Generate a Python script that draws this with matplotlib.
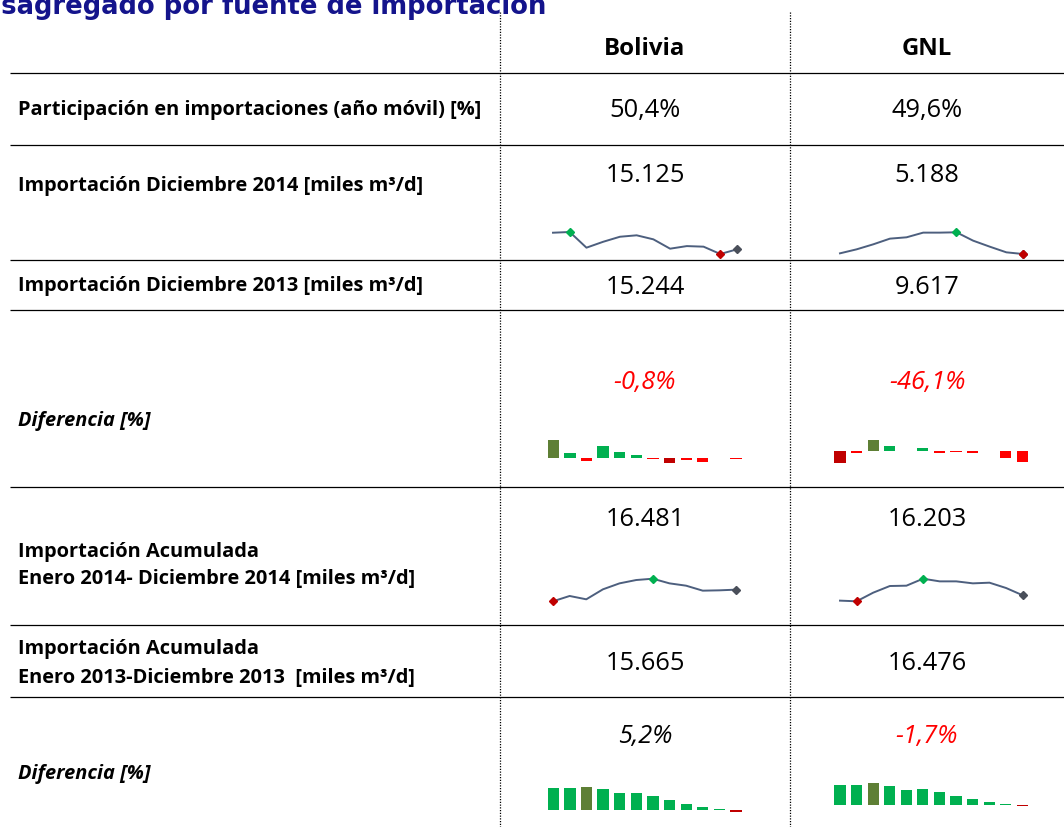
import matplotlib
matplotlib.use("Agg")
import matplotlib.pyplot as plt

# ---------------- data ----------------
title_text = "Desagregado por fuente de importación"
columns = ["Bolivia", "GNL"]

row_labels = [
    ["Participación en importaciones (año móvil) [%]"],
    ["Importación Diciembre 2014 [miles m³/d]"],
    ["Importación Diciembre 2013 [miles m³/d]"],
    ["Diferencia [%]"],
    ["Importación Acumulada", "Enero 2014- Diciembre 2014 [miles m³/d]"],
    ["Importación Acumulada", "Enero 2013-Diciembre 2013  [miles m³/d]"],
    ["Diferencia [%]"],
]
bolivia_values = ["50,4%", "15.125", "15.244", "-0,8%", "16.481", "15.665", "5,2%"]
gnl_values = ["49,6%", "5.188", "9.617", "-46,1%", "16.203", "16.476", "-1,7%"]

# sparkline series (monthly, Jan..Dec)
bolivia_monthly_2014 = [16.28, 16.33, 15.24, 15.65, 16.00, 16.10, 15.82, 15.17, 15.35, 15.31, 14.80, 15.125]
gnl_monthly_2014 = [10.02, 11.46, 13.26, 15.30, 15.78, 17.46, 17.46, 17.58, 14.58, 12.42, 10.38, 9.78]
bolivia_monthly_diff = [16.5, 4.5, -2.7, 11.4, 5.4, 2.7, -0.3, -3.9, -1.8, -3.6, 0.6, -0.8]
gnl_monthly_diff = [-49.5, -6.0, 49.0, 21.0, 1.0, 15.0, -7.5, -1.0, -7.5, 3.0, -30.0, -46.1]
bolivia_cum_2014 = [15.78, 16.10, 15.90, 16.50, 16.86, 17.06, 17.14, 16.86, 16.72, 16.42, 16.44, 16.481]
gnl_cum_2014 = [15.72, 15.66, 16.44, 17.04, 17.07, 17.70, 17.46, 17.46, 17.28, 17.34, 16.86, 16.203]
bolivia_cum_diff = [12.6, 12.6, 13.6, 12.0, 10.0, 10.0, 8.4, 5.6, 3.6, 2.0, 0.8, -1.2]
gnl_cum_diff = [12.0, 12.0, 13.0, 11.4, 9.0, 9.4, 7.8, 5.4, 3.4, 2.0, 0.8, -0.8]

# ---------------- style ----------------
W, H = 1064, 827
FONT = "Open Sans"
LINE_C = "#4d5f7e"
HIGH_M = "#00B050"
LOW_M = "#C00000"
LAST_M = "#4a4f5a"
POS_C = "#00B050"
NEG_C = "#FF0000"
HIGH_C = "#5E7F35"
LOW_C = "#C00000"

fig = plt.figure(figsize=(W / 100, H / 100), dpi=100)
base = fig.add_axes([0, 0, 1, 1])
base.set_xlim(0, W)
base.set_ylim(H, 0)
base.axis("off")

# title (clipped at top / left like the reference)
base.text(546, 14, title_text, ha="right", va="baseline", fontsize=18.6,
          fontweight="bold", color="#14148C", family="DejaVu Sans")

# grid lines
for y in [73, 145, 260, 310, 487, 625, 697]:
    base.plot([10, W], [y, y], color="black", lw=0.9, solid_capstyle="butt")
for x in [500, 790]:
    base.plot([x, x], [12, H], color="black", lw=0.9, linestyle=(0, (1, 1.2)))

# header
col_x = [645, 927]
for cx, name in zip(col_x, columns):
    base.text(cx, 49, name, ha="center", va="center", fontsize=17.3,
              fontweight="bold", family=FONT, color="black")

# row labels
label_y = [[110], [186], [286], [421], [552, 579], [649, 678], [774]]
for lines, ys in zip(row_labels, label_y):
    italic = lines[0].startswith("Diferencia")
    for txt, y in zip(lines, ys):
        base.text(18, y, txt, ha="left", va="center", fontsize=14.4,
                  fontweight="bold", style="italic" if italic else "normal",
                  family=FONT, color="black")

# values
value_y = [111, 176, 287, 383, 520, 664, 737]
for i, y in enumerate(value_y):
    for cx, vals in zip(col_x, [bolivia_values, gnl_values]):
        v = vals[i]
        italic = i in (3, 6)
        color = "#FF0000" if (italic and v.startswith("-")) else "black"
        base.text(cx, y, v, ha="center", va="center", fontsize=18.3,
                  style="italic" if italic else "normal", family=FONT, color=color)


def px_axes(x0, x1, ytop, ybot):
    ax = fig.add_axes([x0 / W, 1 - ybot / H, (x1 - x0) / W, (ybot - ytop) / H])
    ax.axis("off")
    return ax


def line_spark(vals, x0, x1, ytop, ybot):
    ax = px_axes(x0, x1, ytop, ybot)
    xs = list(range(len(vals)))
    ax.plot(xs, vals, color=LINE_C, lw=1.4, clip_on=False)
    imax = vals.index(max(vals))
    imin = vals.index(min(vals))
    last = len(vals) - 1
    ax.plot([last], [vals[last]], marker="D", ms=4.5, color=LAST_M, clip_on=False)
    ax.plot([imax], [vals[imax]], marker="D", ms=4.5, color=HIGH_M, clip_on=False)
    ax.plot([imin], [vals[imin]], marker="D", ms=4.5, color=LOW_M, clip_on=False)
    ax.set_xlim(0, last)
    ax.set_ylim(min(vals), max(vals))


def bar_spark(vals, c0, c1, ytop, ybot):
    n = len(vals)
    sp = (c1 - c0) / (n - 1)
    ax = px_axes(c0 - sp / 2, c1 + sp / 2, ytop, ybot)
    imax = vals.index(max(vals))
    imin = vals.index(min(vals))
    colors = []
    for i, v in enumerate(vals):
        if i == imax:
            colors.append(HIGH_C)
        elif i == imin:
            colors.append(LOW_C)
        elif v < 0:
            colors.append(NEG_C)
        else:
            colors.append(POS_C)
    ax.bar(range(n), vals, width=0.68, color=colors, linewidth=0)
    ax.set_xlim(-0.5, n - 0.5)
    lo = min(0, min(vals))
    hi = max(0, max(vals))
    ax.set_ylim(lo, hi)


line_spark(bolivia_monthly_2014, 553, 737, 232, 254)
line_spark(gnl_monthly_2014, 840, 1023, 232.3, 254)
bar_spark(bolivia_monthly_diff, 553.3, 736, 440, 462.7)
bar_spark(gnl_monthly_diff, 840, 1022.3, 440, 462.7)
line_spark(bolivia_cum_2014, 553, 736, 578.7, 601.3)
line_spark(gnl_cum_2014, 840, 1022.7, 578.7, 601.3)
bar_spark(bolivia_cum_diff, 553.3, 736, 786.7, 812)
bar_spark(gnl_cum_diff, 840, 1022.3, 783.3, 806.3)

fig.savefig("out.png", dpi=100)
